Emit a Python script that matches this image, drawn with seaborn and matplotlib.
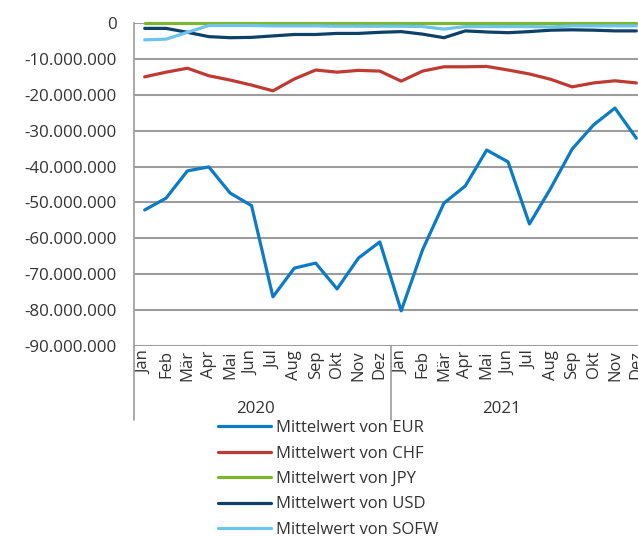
import numpy as np
import pandas as pd
import seaborn as sns
import matplotlib.pyplot as plt
from matplotlib.ticker import FuncFormatter

months = ["Jän", "Feb", "Mär", "Apr", "Mai", "Jun", "Jul", "Aug", "Sep", "Okt", "Nov", "Dez"]
years = ["2020", "2021"]

# monthly means in millions
eur = [-52.1, -48.8, -41.2, -40.1, -47.4, -50.9, -76.3, -68.3, -66.9, -74.1, -65.5, -61.0,
       -80.2, -63.2, -50.2, -45.4, -35.4, -38.7, -56.0, -46.0, -35.1, -28.4, -23.7, -32.1]
chf = [-15.0, -13.7, -12.6, -14.7, -15.9, -17.3, -18.9, -15.6, -13.1, -13.7, -13.2, -13.4,
       -16.2, -13.4, -12.2, -12.2, -12.1, -13.1, -14.2, -15.7, -17.8, -16.7, -16.1, -16.7]
jpy = [-0.05, -0.05, -0.05, -0.05, -0.05, -0.05, -0.05, -0.05, -0.05, -0.05, -0.05, -0.05,
       -0.05, -0.05, -0.05, -0.05, -0.05, -0.05, -0.05, -0.05, -0.05, -0.05, -0.05, -0.05]
usd = [-1.5, -1.5, -2.6, -3.8, -4.1, -4.0, -3.6, -3.2, -3.2, -2.9, -2.9, -2.6,
       -2.4, -3.1, -4.1, -2.2, -2.5, -2.7, -2.4, -2.0, -1.9, -2.0, -2.2, -2.2]
sofw = [-4.7, -4.5, -2.6, -0.7, -0.7, -0.7, -0.8, -0.8, -0.8, -0.9, -0.9, -0.9,
        -0.9, -1.0, -1.7, -1.0, -1.0, -1.0, -1.0, -1.1, -0.8, -0.8, -0.8, -0.8]

series = {
    "Mittelwert von EUR": eur,
    "Mittelwert von CHF": chf,
    "Mittelwert von JPY": jpy,
    "Mittelwert von USD": usd,
    "Mittelwert von SOFW": sofw,
}
colors = ["#0A7BC4", "#BE3B33", "#7AB62E", "#0D4168", "#6CC3EC"]

n = len(months) * len(years)
df = pd.DataFrame({"idx": np.arange(n)})
for name, vals in series.items():
    df[name] = np.array(vals) * 1e6
long = df.melt(id_vars="idx", var_name="serie", value_name="wert")

sns.set_style("white")
plt.rcParams["font.family"] = ["Open Sans", "DejaVu Sans"]
plt.rcParams["font.size"] = 12

fig = plt.figure(figsize=(6.38, 5.36), dpi=100)
ax = fig.add_axes([134 / 638, 190 / 536, 513 / 638, 323 / 536])

sns.lineplot(data=long, x="idx", y="wert", hue="serie", palette=colors,
             linewidth=2.3, ax=ax, legend=False, clip_on=False)

grid_c = "#9C9C9C"
txt_c = "#333333"
ax.set_ylim(-90e6, 0)
ax.set_xlim(-0.5, n - 0.5)
ax.set_yticks(np.arange(-90e6, 1, 10e6))
ax.yaxis.set_major_formatter(FuncFormatter(lambda v, p: f"{v:,.0f}".replace(",", ".")))
ax.grid(axis="y", color=grid_c, linewidth=1.5)
ax.set_axisbelow(True)
ax.tick_params(axis="y", length=4.5, width=1.5, color=grid_c, pad=8,
               labelsize=12.2, labelcolor=txt_c)
ax.set_xticks(range(n))
ax.set_xticklabels(months * len(years), rotation=90, fontsize=12, color=txt_c)
ax.tick_params(axis="x", length=0, pad=3)
ax.set_xlabel("")
ax.set_ylabel("")
for s in ["top", "right", "bottom"]:
    ax.spines[s].set_visible(False)
ax.spines["left"].set_color(grid_c)
ax.spines["left"].set_linewidth(1.2)

# multi-level category separators below the axis
xt = ax.get_xaxis_transform()
ax.plot([-0.5, -0.5], [0, -0.23], transform=xt, color=grid_c, lw=1.2, clip_on=False)
ax.plot([11.5, 11.5], [0, -0.23], transform=xt, color=grid_c, lw=1.2, clip_on=False)
ax.text(5.2, -0.195, years[0], transform=xt, ha="center", va="center",
        fontsize=12.2, color=txt_c)
ax.text(16.7, -0.195, years[1], transform=xt, ha="center", va="center",
        fontsize=12.2, color=txt_c)

handles = [plt.Line2D([], [], color=c, lw=2.3) for c in colors]
fig.legend(handles, list(series.keys()), loc="upper left",
           bbox_to_anchor=(218 / 638, 116 / 536), frameon=False,
           borderpad=0, borderaxespad=0, handlelength=3.2, handletextpad=0.3,
           labelspacing=0.57, fontsize=12, labelcolor=txt_c)

fig.savefig("out.png", dpi=100)
